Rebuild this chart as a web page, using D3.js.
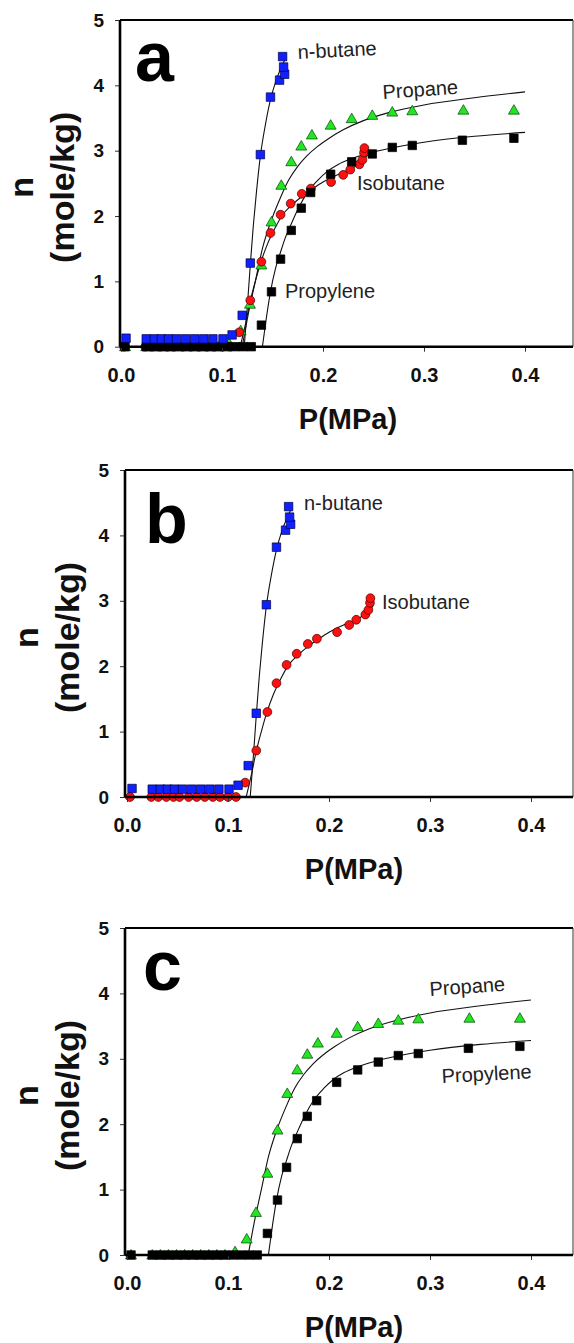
<!DOCTYPE html>
<html><head><meta charset="utf-8">
<script src="https://cdn.jsdelivr.net/npm/d3@7"></script>
<style>body{margin:0;background:#fff} svg{display:block}</style>
</head><body><svg id="chart" width="574" height="1343"></svg>
<script>
// ---------- data ----------
const nbutaneP = [0.005,0.025,0.033,0.040,0.047,0.055,0.064,0.073,0.082,0.091,0.101,0.110,0.120,0.128,0.138,0.148,0.157,0.162,0.161,0.160];
const nbutaneN = [0.13,0.12,0.12,0.12,0.12,0.12,0.12,0.12,0.12,0.12,0.12,0.18,0.48,1.28,2.94,3.82,4.08,4.17,4.28,4.44];
const isobutaneP = [0.003,0.024,0.031,0.039,0.046,0.052,0.061,0.069,0.077,0.085,0.092,0.100,0.108,0.117,0.128,0.139,0.148,0.158,0.168,0.179,0.188,0.208,0.220,0.227,0.236,0.239,0.2406,0.241];
const isobutaneN = [0,0,0,0,0,0,0,0,0,0,0,0,0,0.22,0.71,1.30,1.74,2.02,2.19,2.34,2.42,2.52,2.63,2.71,2.79,2.86,2.97,3.04];
const propaneP = [0.004,0.025,0.033,0.041,0.049,0.057,0.065,0.073,0.081,0.089,0.097,0.107,0.1185,0.1277,0.139,0.149,0.1587,0.1686,0.1785,0.189,0.2076,0.2284,0.2488,0.2686,0.2884,0.339,0.389];
const propaneN = [0,0,0,0,0,0,0,0,0,0,0,0.05,0.245,0.65,1.25,1.91,2.47,2.83,3.07,3.24,3.39,3.49,3.54,3.59,3.61,3.62,3.62];
const propyleneP = [0.004,0.025,0.033,0.041,0.049,0.057,0.065,0.073,0.081,0.089,0.097,0.105,0.113,0.121,0.129,0.139,0.149,0.158,0.1686,0.1785,0.1878,0.2076,0.2284,0.2488,0.2686,0.2884,0.338,0.389];
const propyleneN = [0,0,0,0,0,0,0,0,0,0,0,0,0,0,0,0.33,0.84,1.34,1.78,2.12,2.36,2.64,2.83,2.95,3.05,3.08,3.16,3.19];

// fitted curves
const fitNbutaneP = [0.122,0.125,0.128,0.131,0.134,0.138,0.143,0.148,0.153,0.158,0.163];
const fitNbutaneN = [0,0.6,1.25,1.85,2.35,2.92,3.4,3.78,4.05,4.25,4.42];
const fitIsobutaneP = [0.118,0.123,0.128,0.133,0.138,0.145,0.152,0.160,0.170,0.180,0.190,0.200,0.210,0.220,0.230,0.238,0.244];
const fitIsobutaneN = [0,0.33,0.70,1.00,1.27,1.57,1.80,2.02,2.18,2.31,2.42,2.52,2.60,2.67,2.74,2.82,2.93];
const fitPropaneP = [0.120,0.126,0.133,0.140,0.148,0.157,0.166,0.175,0.184,0.195,0.205,0.220,0.240,0.267,0.300,0.350,0.400];
const fitPropaneN = [0,0.5,1.0,1.5,1.9,2.25,2.55,2.76,2.92,3.07,3.18,3.32,3.46,3.59,3.70,3.81,3.90];
const fitPropyleneP = [0.140,0.144,0.148,0.153,0.158,0.163,0.168,0.176,0.185,0.195,0.204,0.215,0.227,0.245,0.267,0.300,0.350,0.400];
const fitPropyleneN = [0,0.45,0.84,1.20,1.45,1.68,1.86,2.13,2.37,2.55,2.68,2.79,2.87,2.96,3.04,3.13,3.22,3.28];

const xTicks = [0.0,0.1,0.2,0.3,0.4];
const yTicks = [0,1,2,3,4,5];
const xTickLabels = ["0.0","0.1","0.2","0.3","0.4"];

// ---------- series definitions ----------
const series = {
  nbutane:  {P:nbutaneP, N:nbutaneN, fitP:fitNbutaneP, fitN:fitNbutaneN, shape:"square", fill:"#1020ff", stroke:"#000044"},
  isobutane:{P:isobutaneP, N:isobutaneN, fitP:fitIsobutaneP, fitN:fitIsobutaneN, shape:"circle", fill:"#ff1010", stroke:"#440000"},
  propane:  {P:propaneP, N:propaneN, fitP:fitPropaneP, fitN:fitPropaneN, shape:"triangle", fill:"#22e622", stroke:"#004400"},
  propylene:{P:propyleneP, N:propyleneN, fitP:fitPropyleneP, fitN:fitPropyleneN, shape:"square", fill:"#000000", stroke:"#000000"}
};

const panels = [
  {letter:"a", top:20, bottom:346.7, x0:121, left:120, right:573, lx:135, ly:81,
   order:["propane","isobutane","propylene","nbutane"],
   labels:[{t:"n-butane",x:298,y:59,r:-3},{t:"Propane",x:383,y:99,r:-4},{t:"Isobutane",x:357,y:190,r:0},{t:"Propylene",x:285,y:298,r:0}]},
  {letter:"b", top:470, bottom:797, x0:127, left:125, right:573, lx:145, ly:543,
   order:["isobutane","nbutane"],
   labels:[{t:"n-butane",x:304,y:510,r:0},{t:"Isobutane",x:382,y:609,r:0}]},
  {letter:"c", top:928, bottom:1255, x0:127, left:125, right:573, lx:143, ly:990,
   order:["propane","propylene"],
   labels:[{t:"Propane",x:430,y:996,r:-4},{t:"Propylene",x:442,y:1083,r:-3}]}
];

const svg = d3.select("#chart");
const FONT = "Liberation Sans, Arial, Helvetica, sans-serif";

panels.forEach(p => {
  const x = d3.scaleLinear().domain([0, 0.4]).range([p.x0, p.x0 + 404]);
  const y = d3.scaleLinear().domain([0, 5]).range([p.bottom, p.top]);
  const g = svg.append("g");

  // frame: top & right
  g.append("line").attr("x1",p.left).attr("x2",p.right).attr("y1",p.top).attr("y2",p.top).attr("stroke","#000").attr("stroke-width",2.2);
  g.append("line").attr("x1",p.right).attr("x2",p.right).attr("y1",p.top).attr("y2",p.bottom).attr("stroke","#333").attr("stroke-width",1);

  // fit lines
  const lineGen = d3.line().x(d=>x(d[0])).y(d=>y(d[1])).curve(d3.curveMonotoneX);
  p.order.forEach(k => {
    const s = series[k];
    const pts = s.fitP.map((v,i)=>[v, s.fitN[i]]);
    g.append("path").attr("d", lineGen(pts)).attr("fill","none").attr("stroke","#111").attr("stroke-width",1.1);
  });

  // markers
  p.order.forEach(k => {
    const s = series[k];
    const pts = s.P.map((v,i)=>[v, s.N[i]]);
    const sg = g.append("g");
    if (s.shape === "circle") {
      sg.selectAll("circle").data(pts).join("circle")
        .attr("cx",d=>x(d[0])).attr("cy",d=>y(d[1])).attr("r",4.4)
        .attr("fill",s.fill).attr("stroke",s.stroke).attr("stroke-width",0.7);
    } else {
      const sym = s.shape === "square" ? d3.symbol().type(d3.symbolSquare).size(72)
                                        : d3.symbol().type(d3.symbolTriangle).size(52);
      sg.selectAll("path").data(pts).join("path")
        .attr("d", sym)
        .attr("transform", d=>`translate(${x(d[0])},${y(d[1]) + (s.shape==="triangle"?0.8:0)})`)
        .attr("fill",s.fill).attr("stroke",s.stroke).attr("stroke-width",0.7);
    }
  });

  // axes
  const xAxis = d3.axisBottom(x).tickValues(xTicks).tickFormat((d,i)=>xTickLabels[i]).tickSize(5).tickPadding(16);
  const xg = g.append("g").attr("transform",`translate(0,${p.bottom})`).call(xAxis);
  xg.select(".domain").remove();
  xg.selectAll(".tick line").attr("stroke","#333").attr("stroke-width",1);
  xg.selectAll(".tick text").attr("font-family",FONT).attr("font-weight","bold").attr("font-size",20).attr("fill","#111");
  g.append("line").attr("x1",p.left).attr("x2",p.right).attr("y1",p.bottom).attr("y2",p.bottom).attr("stroke","#000").attr("stroke-width",2.6);

  const yAxis = d3.axisLeft(y).tickValues(yTicks).tickFormat(d3.format("d")).tickSize(5).tickPadding(11);
  const yg = g.append("g").attr("transform",`translate(${p.left},0)`).call(yAxis);
  yg.select(".domain").remove();
  yg.selectAll(".tick line").attr("stroke","#333").attr("stroke-width",1);
  yg.selectAll(".tick text").attr("font-family",FONT).attr("font-weight","bold").attr("font-size",19).attr("fill","#111");
  g.append("line").attr("x1",p.left).attr("x2",p.left).attr("y1",p.top).attr("y2",p.bottom).attr("stroke","#000").attr("stroke-width",2.6);

  // axis titles
  const midY = (p.top + p.bottom)/2 + 4;
  g.append("text").attr("transform",`translate(${p.left-87},${midY}) rotate(-90)`)
    .attr("text-anchor","middle").attr("font-family",FONT).attr("font-weight","bold").attr("font-size",34).attr("fill","#111").text("n");
  g.append("text").attr("transform",`translate(${p.left-46},${midY}) rotate(-90)`)
    .attr("text-anchor","middle").attr("font-family",FONT).attr("font-weight","bold").attr("font-size",34).attr("fill","#111").text("(mole/kg)");
  g.append("text").attr("x",p.x0+227).attr("y",p.bottom+82)
    .attr("text-anchor","middle").attr("font-family",FONT).attr("font-weight","bold").attr("font-size",29).attr("fill","#111").text("P(MPa)");

  // panel letter
  g.append("text").attr("x",p.lx).attr("y",p.ly).attr("font-family",FONT).attr("font-weight","bold").attr("font-size",70).attr("fill","#000").text(p.letter);

  // series labels
  p.labels.forEach(l => {
    g.append("text").attr("transform",`translate(${l.x},${l.y}) rotate(${l.r})`)
      .attr("font-family",FONT).attr("font-size",20).attr("fill","#222").text(l.t);
  });
});
</script></body></html>
